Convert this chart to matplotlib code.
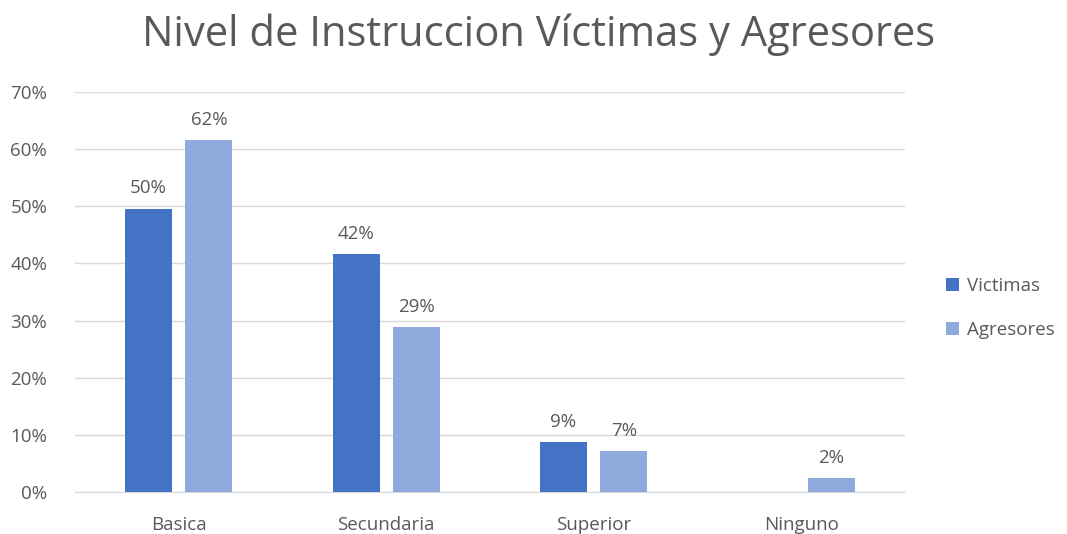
import matplotlib
matplotlib.use("Agg")
import matplotlib.pyplot as plt
import numpy as np
from matplotlib.ticker import FuncFormatter

categories = ["Basica", "Secundaria", "Superior", "Ninguno"]
victimas = [49.6, 41.6, 8.8, 0.0]
agresores = [61.6, 28.8, 7.2, 2.4]
victimas_labels = ["50%", "42%", "9%", None]
agresores_labels = ["62%", "29%", "7%", "2%"]

plt.rcParams['font.family'] = ['Open Sans', 'DejaVu Sans']
txt = '#595959'

fig = plt.figure(figsize=(10.67, 5.34), dpi=100)
ax = fig.add_axes([0.0703, 0.0787, 0.7777, 0.749])

x = np.arange(len(categories))
w = 0.227
off = 0.145
b1 = ax.bar(x - off, victimas, w, color='#4472C4', label='Victimas', zorder=3)
b2 = ax.bar(x + off, agresores, w, color='#8FAADC', label='Agresores', zorder=3)

fs = 13.5
for bars, labels in ((b1, victimas_labels), (b2, agresores_labels)):
    for rect, lab in zip(bars, labels):
        if lab:
            ax.annotate(lab, (rect.get_x() + rect.get_width()/2, rect.get_height()),
                        xytext=(0, 8), textcoords='offset points', ha='center', va='bottom',
                        fontsize=fs, color=txt)

ax.set_xlim(-0.5, 3.5)
ax.set_ylim(0, 70)
ax.set_yticks(np.arange(0, 71, 10))
ax.yaxis.set_major_formatter(FuncFormatter(lambda v, p: f"{int(v)}%"))
ax.set_xticks(x)
ax.set_xticklabels(categories)
ax.tick_params(axis='both', length=0, labelsize=fs, labelcolor=txt)
ax.tick_params(axis='x', pad=17)
ax.tick_params(axis='y', pad=20)
ax.grid(axis='y', color='#D9D9D9', linewidth=1, zorder=0)
for s in ['top', 'right', 'left']:
    ax.spines[s].set_visible(False)
ax.spines['bottom'].set_color('#D9D9D9')

fig.text(0.505, 0.935, "Nivel de Instruccion Víctimas y Agresores", ha='center', va='center',
         fontsize=30, color=txt)

leg = fig.legend(handles=[b1, b2], labels=['Victimas', 'Agresores'], loc='center left',
                 bbox_to_anchor=(0.871, 0.423), frameon=False, fontsize=fs,
                 handlelength=0.7, handleheight=0.7, handletextpad=0.4, labelspacing=1.4)
for t in leg.get_texts():
    t.set_color(txt)

fig.savefig("out.png", dpi=100)
